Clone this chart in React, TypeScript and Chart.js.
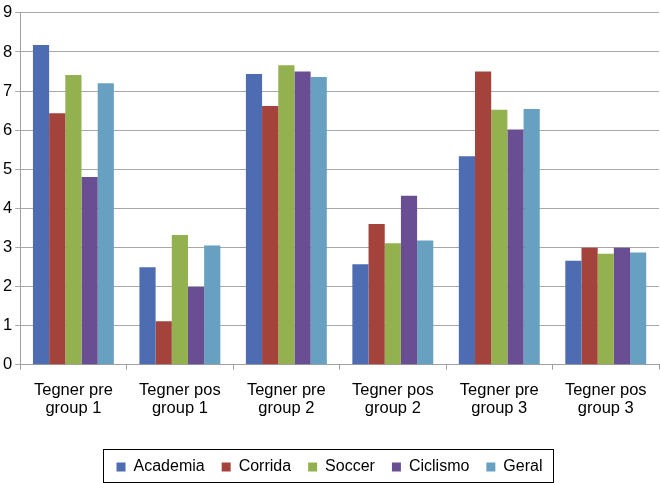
import React, { useEffect, useRef } from "react";
import { Chart, registerables } from "chart.js";

Chart.register(...registerables);

const categories: string[][] = [
  ["Tegner pre", "group 1"],
  ["Tegner pos", "group 1"],
  ["Tegner pre", "group 2"],
  ["Tegner pos", "group 2"],
  ["Tegner pre", "group 3"],
  ["Tegner pos", "group 3"],
];

const academia = [8.18, 2.49, 7.44, 2.57, 5.33, 2.66];
const corrida = [6.43, 1.11, 6.62, 3.6, 7.5, 2.99];
const soccer = [7.41, 3.32, 7.66, 3.11, 6.52, 2.84];
const ciclismo = [4.8, 1.99, 7.5, 4.32, 6.02, 2.99];
const geral = [7.2, 3.05, 7.36, 3.18, 6.54, 2.87];

const seriesNames = ["Academia", "Corrida", "Soccer", "Ciclismo", "Geral"];
const seriesColors = ["#4D6CB1", "#A4423C", "#94B150", "#6A4E94", "#67A0C0"];

const FONT = "'Liberation Sans', Arial, Helvetica, sans-serif";

const legendBox = {
  id: "legendBox",
  afterDraw(chart: any) {
    const lg = chart.legend;
    if (!lg || !lg.legendHitBoxes || !lg.legendHitBoxes.length) return;
    const boxes = lg.legendHitBoxes;
    let minX = Infinity, maxX = -Infinity, minY = Infinity, maxY = -Infinity;
    for (const b of boxes) {
      minX = Math.min(minX, b.left);
      maxX = Math.max(maxX, b.left + b.width);
      minY = Math.min(minY, b.top);
      maxY = Math.max(maxY, b.top + b.height);
    }
    const ctx = chart.ctx;
    ctx.save();
    ctx.strokeStyle = "#000";
    ctx.lineWidth = 1;
    const x0 = Math.round(minX - 14);
    const y0 = Math.round(minY - 10);
    const x1 = Math.round(maxX + 11);
    const y1 = Math.min(Math.round(maxY + 7), chart.height - 1);
    ctx.strokeRect(x0 + 0.5, y0 + 0.5, x1 - x0, y1 - y0);
    ctx.restore();
  },
};

export default function App() {
  const ref = useRef<HTMLCanvasElement | null>(null);
  useEffect(() => {
    if (!ref.current) return;
    const data = [academia, corrida, soccer, ciclismo, geral];
    const chart = new Chart(ref.current, {
      type: "bar",
      data: {
        labels: categories as any,
        datasets: seriesNames.map((n, i) => ({
          label: n,
          data: data[i],
          backgroundColor: seriesColors[i],
          borderWidth: 0,
          categoryPercentage: 0.76,
          barPercentage: 1,
        })),
      },
      plugins: [legendBox],
      options: {
        animation: false,
        responsive: true,
        maintainAspectRatio: false,
        layout: { padding: { left: 0, right: 1, top: 0, bottom: -2 } },
        plugins: {
          tooltip: { enabled: false },
          legend: {
            position: "bottom",
            labels: {
              boxWidth: 9,
              boxHeight: 9,
              padding: 17,
              color: "#000",
              font: { family: FONT, size: 16 },
            },
          },
        },
        scales: {
          x: {
            afterFit: (scale: any) => {
              scale.height += 12;
            },
            grid: {
              display: true,
              drawOnChartArea: false,
              drawTicks: true,
              tickLength: 5,
              color: "#A0A0A0",
            },
            border: { display: true, color: "#A0A0A0", width: 1 },
            ticks: {
              color: "#000",
              font: { family: FONT, size: 16.5, lineHeight: 1.1 },
              maxRotation: 0,
              autoSkip: false,
              padding: 12,
            },
          },
          y: {
            min: 0,
            max: 9,
            grid: {
              color: "#A8A8A8",
              lineWidth: 1,
              tickLength: 5,
            },
            border: { display: true, color: "#A0A0A0", width: 1 },
            ticks: {
              stepSize: 1,
              color: "#000",
              font: { family: FONT, size: 16.5 },
              padding: 3,
            },
          },
        },
      },
    });
    return () => chart.destroy();
  }, []);
  return (
    <div style={{ position: "absolute", left: 0, top: 0, width: 660, height: 483, background: "#fff" }}>
      <canvas ref={ref} />
    </div>
  );
}
